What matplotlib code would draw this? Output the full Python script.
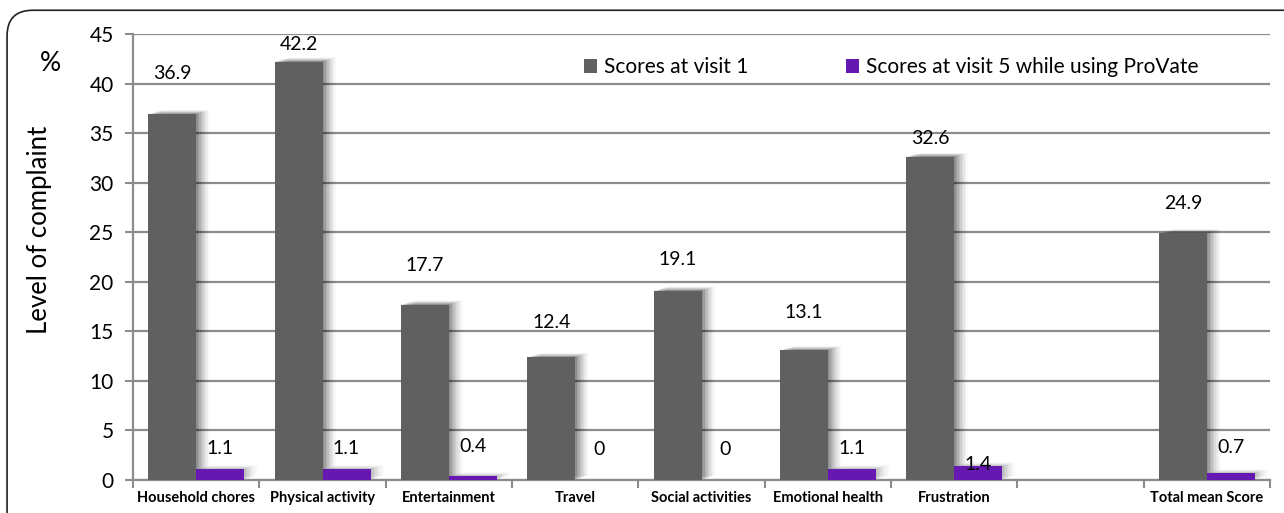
import matplotlib
matplotlib.use("Agg")
import matplotlib.pyplot as plt
from matplotlib.patches import FancyBboxPatch
from matplotlib.transforms import ScaledTranslation
import numpy as np

categories = ["Household chores", "Physical activity", "Entertainment", "Travel",
              "Social activities", "Emotional health", "Frustration", "", "Total mean Score"]
visit1 = [36.9, 42.2, 17.7, 12.4, 19.1, 13.1, 32.6, None, 24.9]
visit5 = [1.1, 1.1, 0.4, 0.0, 0.0, 1.1, 1.4, None, 0.7]
series_names = ["Scores at visit 1", "Scores at visit 5 while using ProVate"]
yticks = [0, 5, 10, 15, 20, 25, 30, 35, 40, 45]

# label lift above each bar top, in points
lift1 = [23, 6, 22, 19, 16, 21, 7, None, 15]
lift5 = [9, 9, 15, 16, 16, 9, -5, None, 12]

GRAY = "#606060"
PURPLE = "#6519b0"
FONT = "Lato"

fig = plt.figure(figsize=(12.84, 5.13), dpi=100)
fig.patch.set_facecolor("white")
border = FancyBboxPatch((0.0055, -0.2), 1.2, 1.18, boxstyle="round,pad=0,rounding_size=0.02",
                        transform=fig.transFigure, facecolor="none", edgecolor="#222222",
                        linewidth=1.2, mutation_aspect=2.5)
fig.patches.append(border)

ax = fig.add_axes([0.1036, 0.0643, 0.8855, 0.8694])
n = len(categories)
x = np.arange(n)
w = 0.38
idx = [i for i in range(n) if visit1[i] is not None]
v1 = [visit1[i] for i in idx]
v5 = [visit5[i] for i in idx]
xi = np.array(idx, dtype=float)

# soft drop shadows to the right of the bars
for k in range(1, 10):
    off = ScaledTranslation(k * 1.1 / 72, 0.35 * k / 72, fig.dpi_scale_trans)
    a = 0.11 * (1 - k / 11)
    ax.bar(xi - w / 2, v1, w, color="black", alpha=a, transform=ax.transData + off,
           zorder=2, linewidth=0)
    ax.bar(xi + w / 2, v5, w, color="black", alpha=a * 0.5, transform=ax.transData + off,
           zorder=2, linewidth=0)

ax.bar(xi - w / 2, v1, w, color=GRAY, zorder=3, label=series_names[0], linewidth=0)
ax.bar(xi + w / 2, v5, w, color=PURPLE, zorder=3, label=series_names[1], linewidth=0)

for j, i in enumerate(idx):
    ax.annotate(f"{v1[j]:g}", (i - w / 2, v1[j]), xytext=(0, lift1[i]), textcoords="offset points",
                ha="center", va="bottom", fontsize=14, family=FONT, color="black", zorder=5)
    ax.annotate(f"{v5[j]:g}", (i + w / 2, v5[j]), xytext=(0, lift5[i]), textcoords="offset points",
                ha="center", va="bottom", fontsize=14, family=FONT, color="black", zorder=5)

ax.set_xlim(-0.5, n - 0.5)
ax.set_ylim(0, 45)
ax.set_yticks(yticks)
ax.set_yticklabels([str(t) for t in yticks], fontsize=15, family=FONT)
ax.yaxis.grid(True, color="#8c8c8c", linewidth=1.6, zorder=0)
ax.set_axisbelow(True)

ax.set_xticks(np.arange(n + 1) - 0.5)
ax.set_xticklabels([])
ax.set_xticks(x, minor=True)
ax.set_xticklabels(categories, minor=True, fontsize=10.5, family=FONT, fontweight="bold")
ax.tick_params(axis="x", which="minor", length=0, pad=8)
ax.tick_params(axis="x", which="major", length=6, color="#8c8c8c", width=1.5)
ax.tick_params(axis="y", length=6, color="#8c8c8c", width=1.5, pad=8)

for s in ["top", "right"]:
    ax.spines[s].set_visible(False)
for s in ["left", "bottom"]:
    ax.spines[s].set_color("#8c8c8c")
    ax.spines[s].set_linewidth(1.6)

fig.text(0.0305, 0.552, "Level of complaint", rotation=90, ha="center", va="center",
         fontsize=18.5, family=FONT)
fig.text(0.0395, 0.877, "%", ha="center", va="center", fontsize=19, family=FONT)

ax.legend(loc="upper left", bbox_to_anchor=(0.38, 0.99), ncol=2, frameon=False,
          prop={"family": FONT, "size": 15}, handlelength=0.65, handleheight=0.65,
          handletextpad=0.3, columnspacing=4.7)

fig.savefig("out.png", dpi=100, facecolor="white")
